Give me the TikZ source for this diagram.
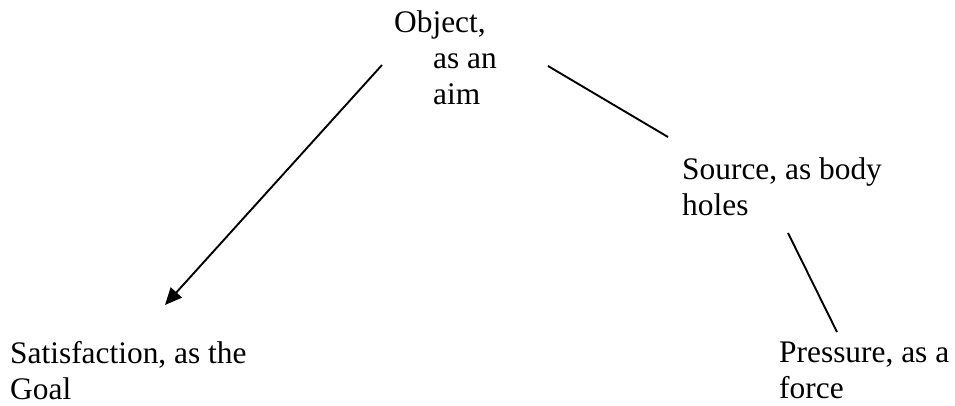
\documentclass[tikz,border=0pt]{standalone}
\usepackage{fontspec}
\setmainfont{Liberation Serif}
\usetikzlibrary{arrows.meta}

\begin{document}
\begin{tikzpicture}[x=1pt,y=-1pt,
  lbl/.style={anchor=base west,inner sep=0pt,align=left,
    font=\fontsize{31.4}{36}\selectfont},
  link/.style={line width=1.9pt}]
  \useasboundingbox (0,0) rectangle (955,405);

  % labels sit on the baseline of their last line
  \node[lbl] (obj) at (394,104) {Object,\\\hspace*{39pt}as an\\\hspace*{39pt}aim};
  \node[lbl] (src) at (682,215) {Source, as body\\holes};
  \node[lbl] (sat) at (10,399)  {Satisfaction, as the\\Goal};
  \node[lbl] (prs) at (779,398) {Pressure, as a\\force};

  \coordinate (objL) at (382,65);
  \coordinate (satT) at (165,305);
  \coordinate (objR) at (548,66);
  \coordinate (srcT) at (668,137);
  \coordinate (srcB) at (788,233);
  \coordinate (prsT) at (837,332);

  \draw[link,-{Triangle[length=17pt,width=15pt]}] (objL) -- (satT);
  \draw[link] (objR) -- (srcT);
  \draw[link] (srcB) -- (prsT);
\end{tikzpicture}
\end{document}
